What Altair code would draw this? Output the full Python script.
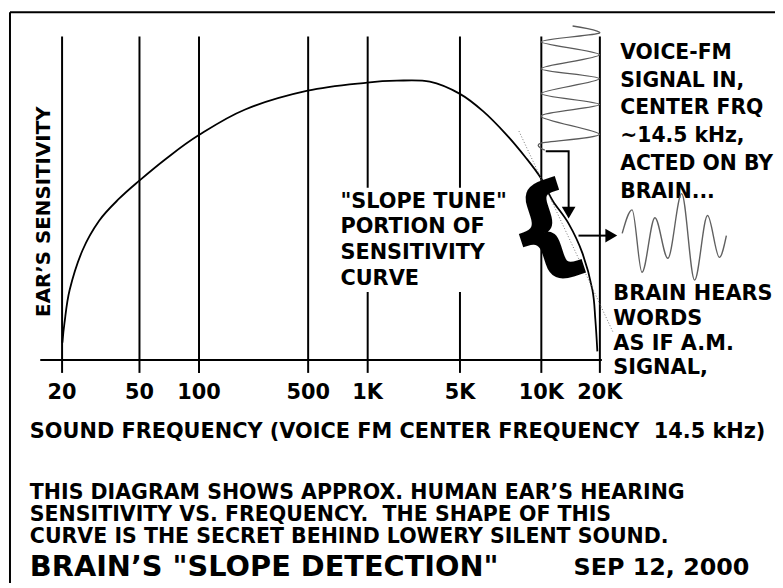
import altair as alt
import pandas as pd

# ---------------- data ----------------
tick_freqs = [20, 50, 100, 500, 1000, 5000, 10000, 20000]
# hand-drawn (non-uniform) frequency axis: knots of the scale
knot_freqs = [15.4, 20, 50, 100, 500, 1000, 5000, 10000, 20000, 20475]
knot_px = [0, 22, 100, 160, 270, 330, 423, 505, 564, 566]

curve_freq = [20.2, 20.7, 22.0, 25.6, 31.2, 39.5, 50, 68.3, 100, 199, 500, 1000,
              1680, 2980, 5000, 6125, 7440, 8815, 10000, 11510, 13900, 16380,
              18420, 19070, 19530]
curve_sens = [5.2, 11.3, 21.5, 33.7, 42.9, 49.7, 55.2, 62.0, 69.3, 77.3, 83.1, 85.6,
              86.2, 85.9, 82.2, 76.7, 69.6, 62.3, 56.1, 49.1, 42.0, 32.8,
              21.5, 12.3, 2.5]

coil_freq = [14567, 20000, 10000, 20000, 10000, 20000, 10000, 20000, 10000, 20000, 10000, 10481]
coil_sens = [103.1, 100.9, 98.2, 94.2, 89.9, 86.8, 82.2, 78.8, 75.2, 69.6, 66.9, 64.7]

arrow_down_freq = [10600, 13900, 13900]
arrow_down_sens = [64.4, 64.4, 47.0]
arrow_right_freq = [15623, 21970]
arrow_right_sens = [38.3, 38.3]
head_freq = [13900, 23030]
head_sens = [45.4, 38.3]
head_shape = ["triangle-down", "triangle-right"]

slope_freq = [8300, 23570]
slope_sens = [70.6, 8.3]

wave_t = [0, 0.95, 1.9, 3.14, 4.38, 5.71, 6.95, 8.19, 9.33, 10]
wave_amp = [0.7, 6.1, -8.2, 4.3, -5.0, 9.8, -10.0, 4.8, -4.8, 0.2]

y_title = "EAR\u2019S SENSITIVITY"
x_title = "SOUND FREQUENCY (VOICE FM CENTER FREQUENCY\u00a0 14.5 kHz)"
slope_lines = ['"SLOPE TUNE"', "PORTION OF", "SENSITIVITY", "CURVE"]
signal_lines = ["VOICE-FM", "SIGNAL IN,", "CENTER FRQ", "~14.5 kHz,", "ACTED ON BY", "BRAIN..."]
hears_lines = ["BRAIN HEARS", "WORDS", "AS IF A.M.", "SIGNAL,"]
note_lines = ["THIS DIAGRAM SHOWS APPROX. HUMAN EAR\u2019S HEARING",
              "SENSITIVITY VS. FREQUENCY.\u00a0 THE SHAPE OF THIS",
              "CURVE IS THE SECRET BEHIND LOWERY SILENT SOUND."]
main_title = 'BRAIN\u2019S "SLOPE DETECTION"'
date_text = "SEP 12, 2000"

# ---------------- scales ----------------
FONT = "DejaVu Sans"
xscale = alt.Scale(type="log", domain=knot_freqs, range=knot_px, nice=False)
yscale = alt.Scale(domain=[0, 100], nice=False, zero=False)
xaxis = alt.Axis(values=tick_freqs,
                 labelExpr="datum.value >= 1000 ? (datum.value/1000) + 'K' : datum.value + ''",
                 grid=True, gridColor="black", gridWidth=2, gridOpacity=1,
                 tickColor="black", tickWidth=2, tickSize=13,
                 domainColor="black", domainWidth=2,
                 labelFont=FONT, labelFontWeight="bold", labelFontSize=21,
                 labelColor="black", labelPadding=9, labelOverlap=False,
                 labelFlush=False, title=None)


def X():
    return alt.X("freq:Q", scale=xscale, axis=xaxis)


def Y():
    return alt.Y("sens:Q", scale=yscale, axis=None)


curve_df = pd.DataFrame({"freq": curve_freq, "sens": curve_sens})
coil_df = pd.DataFrame({"freq": coil_freq, "sens": coil_sens, "o": range(len(coil_freq))})
adown_df = pd.DataFrame({"freq": arrow_down_freq, "sens": arrow_down_sens, "o": range(3)})
aright_df = pd.DataFrame({"freq": arrow_right_freq, "sens": arrow_right_sens})
head_df = pd.DataFrame({"freq": head_freq, "sens": head_sens, "shape": head_shape})
slope_df = pd.DataFrame({"freq": slope_freq, "sens": slope_sens})
wave_df = pd.DataFrame({"t": wave_t, "amp": wave_amp})
dummy = pd.DataFrame({"d": [0]})

curve = alt.Chart(curve_df).mark_line(color="black", strokeWidth=1.8,
                                      interpolate="cardinal").encode(x=X(), y=Y())

blank = alt.Chart(dummy).mark_rect(color="white").encode(
    x=alt.value(300), x2=alt.value(476), y=alt.value(153), y2=alt.value(258))

slope = alt.Chart(slope_df).mark_line(color="#777777", strokeWidth=1,
                                      strokeDash=[1, 2]).encode(x=X(), y=Y())

coil = alt.Chart(coil_df).mark_line(color="#5a5a5a", strokeWidth=1.3,
                                    interpolate="cardinal", tension=0.15).encode(
    x=X(), y=Y(), order="o:Q")

adown = alt.Chart(adown_df).mark_line(color="black", strokeWidth=2).encode(
    x=X(), y=Y(), order="o:Q")
aright = alt.Chart(aright_df).mark_line(color="black", strokeWidth=2).encode(x=X(), y=Y())
heads = alt.Chart(head_df).mark_point(filled=True, color="black", size=190, opacity=1).encode(
    x=X(), y=Y(), shape=alt.Shape("shape:N", scale=None))

frame_top = alt.Chart(dummy).mark_rule(color="black", strokeWidth=2).encode(
    x=alt.value(-30), x2=alt.value(745), y=alt.value(-24))
frame_left = alt.Chart(dummy).mark_rule(color="black", strokeWidth=2).encode(
    x=alt.value(-30), y=alt.value(-24), y2=alt.value(560))


def txt(text, x, y, size, angle=None, align="left", baseline="alphabetic", lh=None,
        stroke=None):
    props = dict(text=text, fontSize=size, font=FONT, fontWeight="bold", color="black",
                 align=align, baseline=baseline)
    if angle is not None:
        props["angle"] = angle
    if lh is not None:
        props["lineHeight"] = lh
    if stroke is not None:
        props["stroke"] = "black"
        props["strokeWidth"] = stroke
    return alt.Chart(dummy).mark_text(**props).encode(x=alt.value(x), y=alt.value(y))


texts = [
    txt(y_title, 10, 177, 20, angle=270, align="center"),
    txt(slope_lines, 303, 173, 21, lh=26),
    txt("{", 510, 198, 108, angle=342, align="center", baseline="middle", stroke=2.5),
    txt(signal_lines, 585, 23, 20.5, lh=28),
    txt(hears_lines, 578, 266, 21, lh=25),
    txt(x_title, -10, 405, 21),
    txt(note_lines, -10, 467, 20.7, lh=22),
    txt(main_title, -10, 544, 29),
    txt(date_text, 538, 543, 24),
]

main = alt.layer(curve, blank, slope, coil, adown, aright, heads,
                 frame_top, frame_left, *texts)

wave = alt.Chart(wave_df).mark_line(color="#606060", strokeWidth=1.4,
                                    interpolate="monotone").encode(
    x=alt.X("t:Q", scale=alt.Scale(domain=[0, 10], range=[587, 692], nice=False), axis=None),
    y=alt.Y("amp:Q", scale=alt.Scale(domain=[-10, 10], range=[246, 158], nice=False), axis=None),
)

chart = alt.layer(main, wave).resolve_scale(x="independent", y="independent").properties(
    width=566, height=326,
    autosize=alt.AutoSizeParams(type="none"),
    padding={"left": 32, "top": 26, "right": 175, "bottom": 223},
    background="white",
).configure_view(stroke=None)

chart.save("out.html", embed_options={"renderer": "svg", "actions": False})
